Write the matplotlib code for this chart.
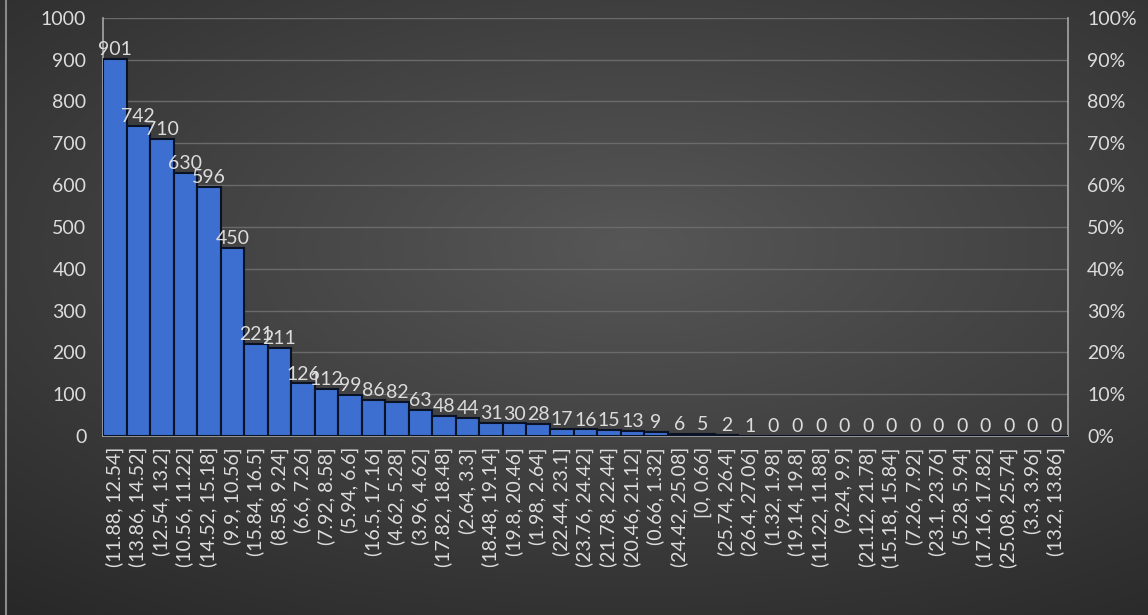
import numpy as np
import matplotlib
matplotlib.use("Agg")
import matplotlib.pyplot as plt
from matplotlib.ticker import FuncFormatter

# histogram bins (sorted by count) and counts
bins = ['(11.88, 12.54]', '(13.86, 14.52]', '(12.54, 13.2]', '(10.56, 11.22]',
        '(14.52, 15.18]', '(9.9, 10.56]', '(15.84, 16.5]', '(8.58, 9.24]',
        '(6.6, 7.26]', '(7.92, 8.58]', '(5.94, 6.6]', '(16.5, 17.16]',
        '(4.62, 5.28]', '(3.96, 4.62]', '(17.82, 18.48]', '(2.64, 3.3]',
        '(18.48, 19.14]', '(19.8, 20.46]', '(1.98, 2.64]', '(22.44, 23.1]',
        '(23.76, 24.42]', '(21.78, 22.44]', '(20.46, 21.12]', '(0.66, 1.32]',
        '(24.42, 25.08]', '[0, 0.66]', '(25.74, 26.4]', '(26.4, 27.06]',
        '(1.32, 1.98]', '(19.14, 19.8]', '(11.22, 11.88]', '(9.24, 9.9]',
        '(21.12, 21.78]', '(15.18, 15.84]', '(7.26, 7.92]', '(23.1, 23.76]',
        '(5.28, 5.94]', '(17.16, 17.82]', '(25.08, 25.74]', '(3.3, 3.96]',
        '(13.2, 13.86]']
counts = [901, 742, 710, 630, 596, 450, 221, 211, 126, 112, 99, 86, 82, 63,
          48, 44, 31, 30, 28, 17, 16, 15, 13, 9, 6, 5, 2, 1,
          0, 0, 0, 0, 0, 0, 0, 0, 0, 0, 0, 0, 0]

txt = '#dcdcdc'
plt.rcParams['font.family'] = ['Lato', 'DejaVu Sans']

fig = plt.figure(figsize=(11.48, 6.15), dpi=100)

# dark radial gradient background
bg = fig.add_axes([0, 0, 1, 1], zorder=-10)
yy, xx = np.mgrid[0:1:300j, 0:1:560j]
r = np.sqrt(((xx - 0.55) / 0.9) ** 2 + ((yy - 0.4) / 0.8) ** 2)
shade = np.clip(0.34 - 0.19 * r, 0.15, 0.34)
bg.imshow(np.dstack([shade] * 3), aspect='auto', extent=[0, 1, 0, 1])
bg.axvline(0.005, color='#8a8a8a', lw=1.5)
bg.set_axis_off()

ax = fig.add_axes([0.0897, 0.291, 0.8403, 0.68])
ax.set_facecolor('none')
x = np.arange(len(bins))
ax.bar(x, counts, width=1.0, color='#3d6fd1', edgecolor='#0a1326', linewidth=1.5, zorder=3)

for xi, c in zip(x, counts):
    ax.text(xi, c + 2, str(c), ha='center', va='bottom', color=txt, fontsize=14, zorder=4)

ax.set_xlim(-0.5, len(bins) - 0.5)
ax.set_ylim(0, 1000)
ax.set_yticks(range(0, 1001, 100))
ax.set_xticks(x)
ax.set_xticklabels(bins, rotation=90, fontsize=14, color=txt)
ax.tick_params(axis='y', colors=txt, labelsize=14, length=0, pad=12)
ax.tick_params(axis='x', length=0, pad=8)
ax.grid(axis='y', color='#6a6a6a', lw=1, zorder=0)
for s in ['left', 'right', 'bottom']:
    ax.spines[s].set_color('#a6a6a6')
    ax.spines[s].set_linewidth(1.2)
ax.spines['top'].set_visible(False)

ax2 = ax.twinx()
ax2.set_ylim(0, 1)
ax2.set_yticks(np.linspace(0, 1, 11))
ax2.yaxis.set_major_formatter(FuncFormatter(lambda v, p: f'{v:.0%}'))
ax2.tick_params(axis='y', colors=txt, labelsize=14, length=0, pad=14)
for s in ax2.spines.values():
    s.set_visible(False)

fig.savefig('out.png', dpi=100)
